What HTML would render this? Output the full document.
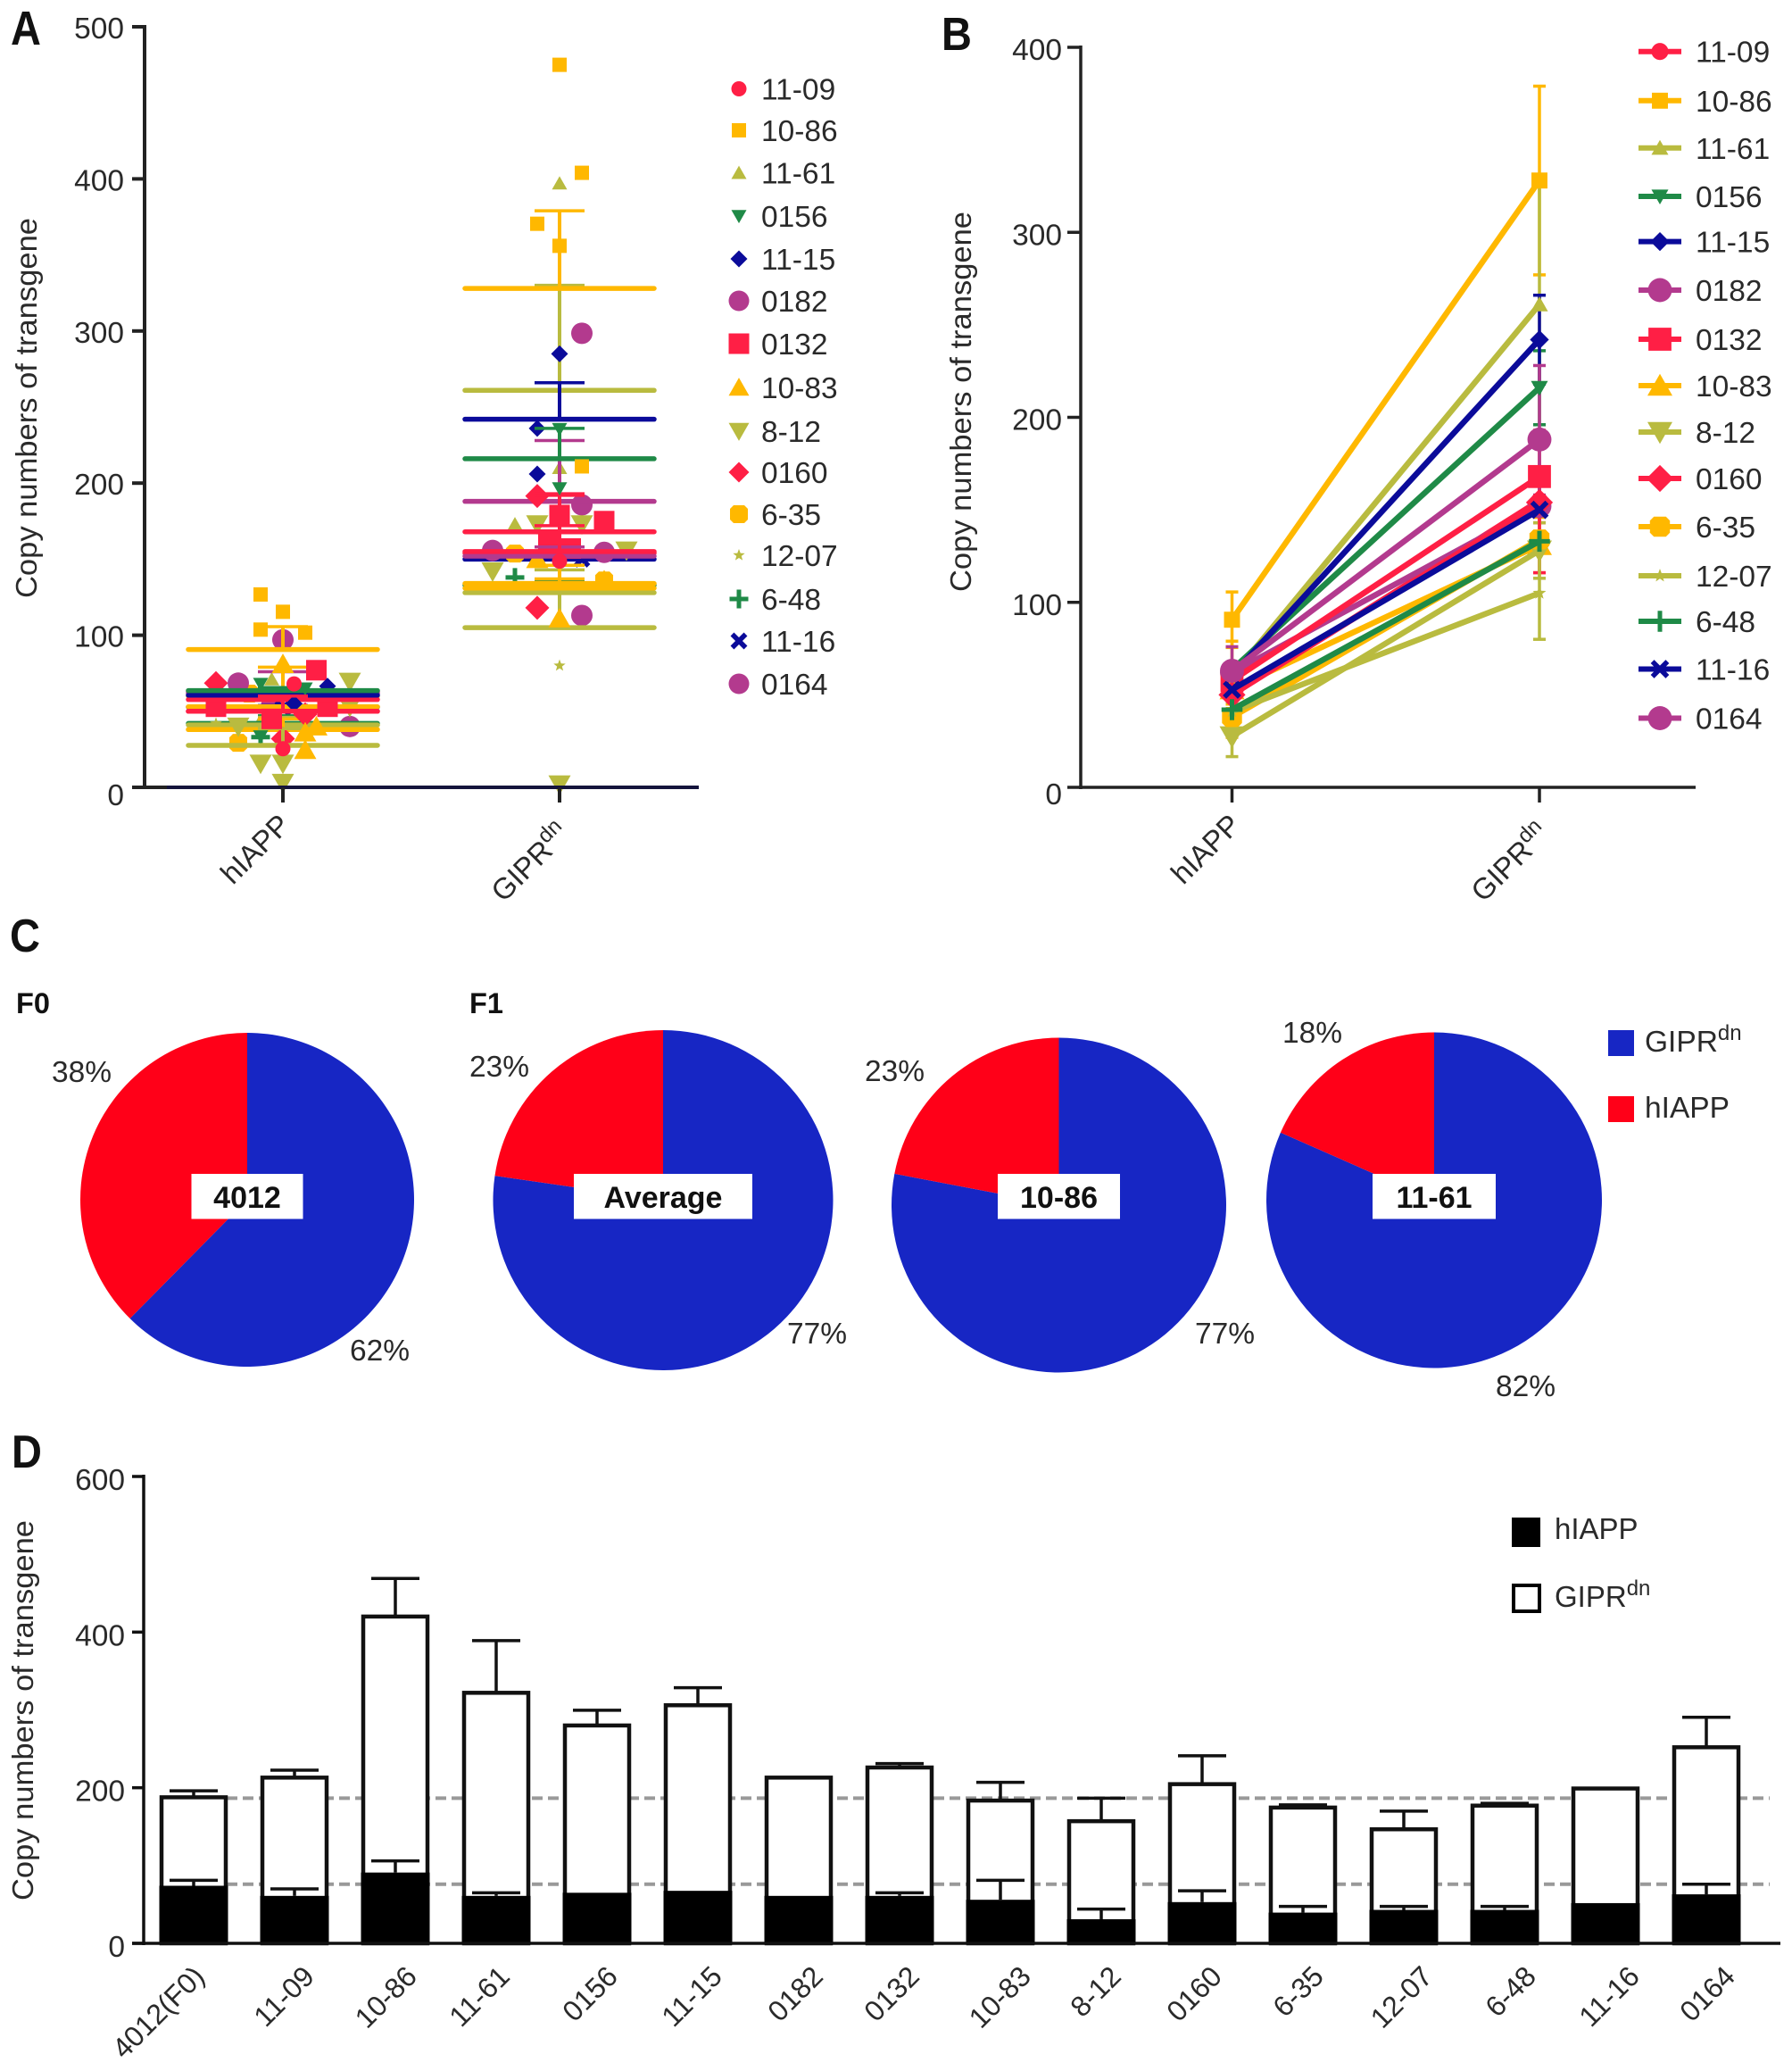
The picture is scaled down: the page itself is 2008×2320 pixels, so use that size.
<!DOCTYPE html>
<html lang="en">
<head>
<meta charset="utf-8">
<title>Transgene copy numbers</title>
<style>
html,body{margin:0;padding:0;background:#fff;}
svg{display:block;}
text{font-family:"Liberation Sans",sans-serif;fill:#2a2a2a;}
</style>
</head>
<body>
<svg id="figure" xmlns="http://www.w3.org/2000/svg" width="2008" height="2320" viewBox="0 0 2008 2320">
  <rect width="2008" height="2320" fill="#ffffff"/>
  <g id="panelA"></g>
  <g id="panelB"></g>
  <g id="panelC"></g>
  <g id="panelD"></g>
  <text transform="translate(12 50) scale(1 1.14)" font-size="47" font-weight="700" style="fill:#111">A</text>
  <text transform="translate(1055 56) scale(1 1.1)" font-size="47" font-weight="700" style="fill:#111">B</text>
  <text transform="translate(11 1066) scale(1 1.1)" font-size="47" font-weight="700" style="fill:#111">C</text>
  <text transform="translate(13 1644) scale(1 1.1)" font-size="47" font-weight="700" style="fill:#111">D</text>
</svg>
<script>
/* ---------- Shared series (panels A and B) ---------- */
const seriesNames = ['11-09','10-86','11-61','0156','11-15','0182','0132','10-83','8-12','0160','6-35','12-07','6-48','11-16','0164'];
const groupNames = ['hIAPP','GIPR'];
const hiappMeans = [50,90.6,60,63.6,60.6,62,57.7,53,27.6,50,38,41,42,52.8,63];
const giprMeans  = [155,328,261,216,242,152,168,131,128,154,134,105,133,150,188];
const hiappSd    = [10,15,3,2,3,1,5,26,11,14,7,5,5,1,13];
const giprSd     = [17,51,69,20,24,6,25,15,15,38,3,25,3,2,40];

/* Individual animals per series, and their ordinal swarm column */
const hiappPoints = [
  [68,25.4],[126.8,115.4,103.7,101.7],[44,71],[68,65,33.5],[66.5,55],[97,68.5],
  [77,53,53,45],[81,36,24.5,40],[69.5,15.6,15.6,3,40,53],[68.5,32,48],[29.3,61.6],
  [42],[33],[52],[40,54]
];
const hiappColumns = [
  [0.5,0],[-1,0,-1,1],[-1,-0.5],[-1,1,-1],[2,0.5],[0,-2],
  [1.5,-3,2,-0.5],[0,1,1,1.5],[3,-1,0,0,-2,3],[-3,0,1],[-2,-1.5],
  [-3],[-1],[0],[3,-0.5]
];
const giprPoints = [
  [148.7],[475,404,370.5,356,211],[397,210,173],[235.5,196.6],[285,236,206],[155.7,154.5],
  [179,175,161.5,157],[150,111,136],[173,173,142,155.7,2],[191.5,118],[153.7,136],
  [80],[138],[150],[298.5,185.7,113]
];
const giprColumns = [
  [0],[0,1,-1,0,1],[0,0,-2],[0,0],[0,-1,-1],[-3,2],
  [0,2,-0.5,0.5],[-1,0,2],[-1,1,-3,3,0],[-1,-1],[-2,2],
  [0],[-2],[1],[1,1,1]
];

/* ---------- Panel C ---------- */
const pieLabels = ['4012','Average','10-86','11-61'];
const pieGiprShare = [62.4,77.3,78,81.6];
const piePrintedGipr = ['62%','77%','77%','82%'];
const piePrintedHiapp = ['38%','23%','23%','18%'];

/* ---------- Panel D ---------- */
const barCategories = ['4012(F0)','11-09','10-86','11-61','0156','11-15','0182','0132','10-83','8-12','0160','6-35','12-07','6-48','11-16','0164'];
const barHiapp    = [74,61,91,61,65,67.5,61,61,56,31,53,39.5,43,43,51.7,63];
const barHiappTop = [81,70,106,65,65,67.5,61,65,81,44,67.5,47.5,47.5,47.5,51.7,76];
const barTotal    = [187.7,213,420,322,280,306,213,226,183.5,157,204.6,174.5,146.6,177,199,252];
const barTotalTop = [196,222.5,469,389,299.5,328.5,213,231,207,186.6,241,178,170,180,199,290.5];
const barRefLines = [186.6,76];

const yTicksA = [0,100,200,300,400,500];
const yTicksB = [0,100,200,300,400];
const yTicksD = [0,200,400,600];

/* ---------- Styling by series (not data) ---------- */
const RED='#ff1f45',YEL='#ffb800',OLV='#b9bb3f',GRN='#1f8a47',NVY='#0b0b9a',PUR='#b33a8e';
const seriesColor = [RED,YEL,OLV,GRN,NVY,PUR,RED,YEL,OLV,RED,YEL,OLV,GRN,NVY,PUR];
const seriesShape = ['circle','square','up','down','diamond','circle','square','up','down','diamond','octagon','star','plus','cross','circle'];
const seriesSize  = [17,16,17,17,19,24,23,25,25,27,20,14,21,15,24];

const SVGNS='http://www.w3.org/2000/svg';
function el(parent,tag,attrs){
  const e=document.createElementNS(SVGNS,tag);
  for(const k in attrs){e.setAttribute(k,attrs[k]);}
  parent.appendChild(e);
  return e;
}
function line(parent,x1,y1,x2,y2,color,w,name){
  const e=el(parent,'line',{x1:x1,y1:y1,x2:x2,y2:y2,stroke:color,'stroke-width':w});
  
  
  return e;
}
function label(parent,x,y,str,size,name,extra){
  const e=el(parent,'text',Object.assign({x:x,y:y,'font-size':size},extra||{}));
  e.textContent=str;
  
  
  return e;
}
function gipr(parent,x,y,size,name,extra){
  const e=el(parent,'text',Object.assign({x:x,y:y,'font-size':size},extra||{}));
  
  
  const a=el(e,'tspan',{});
  a.textContent='GIPR';
  const b=el(e,'tspan',{dy:-Math.round(size*0.38),'font-size':Math.round(size*0.72)});
  b.textContent='dn';
  return e;
}
function marker(parent,shape,x,y,s,color,name){
  const h=s/2;let e;
  if(shape==='circle'){e=el(parent,'ellipse',{cx:x,cy:y,rx:h,ry:h,fill:color});}
  else if(shape==='square'){e=el(parent,'rect',{x:x-h,y:y-h,width:s,height:s,fill:color});}
  else if(shape==='up'){e=el(parent,'polygon',{points:(x-h)+','+(y+h*0.8)+' '+(x+h)+','+(y+h*0.8)+' '+x+','+(y-h*0.95),fill:color});}
  else if(shape==='down'){e=el(parent,'polygon',{points:(x-h)+','+(y-h*0.8)+' '+(x+h)+','+(y-h*0.8)+' '+x+','+(y+h*0.95),fill:color});}
  else if(shape==='diamond'){e=el(parent,'polygon',{points:(x-h)+','+y+' '+x+','+(y-h)+' '+(x+h)+','+y+' '+x+','+(y+h),fill:color});}
  else if(shape==='octagon'){
    const k=h*0.6;
    e=el(parent,'polygon',{points:[[x-k,y-h],[x+k,y-h],[x+h,y-k],[x+h,y+k],[x+k,y+h],[x-k,y+h],[x-h,y+k],[x-h,y-k]].map(function(p){return p.join(',');}).join(' '),fill:color});
  }
  else if(shape==='star'){
    const pts=[];
    for(let i=0;i<10;i++){const r=i%2?h*0.42:h;const a=-Math.PI/2+i*Math.PI/5;pts.push((x+r*Math.cos(a))+','+(y+r*Math.sin(a)));}
    e=el(parent,'polygon',{points:pts.join(' '),fill:color});
  }
  else if(shape==='plus'){e=el(parent,'path',{d:'M'+(x-h)+' '+y+'H'+(x+h)+'M'+x+' '+(y-h)+'V'+(y+h),stroke:color,'stroke-width':5,fill:'none'});}
  else {e=el(parent,'path',{d:'M'+(x-h)+' '+(y-h)+'L'+(x+h)+' '+(y+h)+'M'+(x+h)+' '+(y-h)+'L'+(x-h)+' '+(y+h),stroke:color,'stroke-width':5.5,fill:'none'});}
  
  
  return e;
}
function yAxisTitle(parent,bx,cy,name){
  const e=el(parent,'text',{x:bx,y:cy,'font-size':33,'text-anchor':'middle',textLength:426,lengthAdjust:'spacingAndGlyphs',transform:'rotate(-90 '+bx+' '+cy+')'});
  e.textContent='Copy numbers of transgene';
  
  
}

/* ---------- Panel A ---------- */
(function(){
  const g=document.getElementById('panelA');
  const y=function(v){return 882-v*852/500;};
  const x=[317,627];
  const col=function(c,i){return x[c]+i*25;};
  const AX='#222';
  const rows=[99.5,146,193.7,242,290,337,385,434,483,529,576,622,671,718,766];
  /* first datasets sit on top of later ones; 11-61 lies at the very back */
  const stackOrder=[2,14,13,12,11,10,9,8,7,6,5,4,3,1,0];
  yAxisTitle(g,41,457,'panel-a-y-axis-title');
  stackOrder.forEach(function(s){
    const name=seriesNames[s];
    const c=seriesColor[s];
    [[hiappPoints,hiappColumns],[giprPoints,giprColumns]].forEach(function(set,gi){
      set[0][s].forEach(function(v,k){
        marker(g,seriesShape[s],col(gi,set[1][s][k]),y(v),seriesSize[s],c,'panel-a-point-'+name);
      });
    });
    [[hiappMeans,hiappSd],[giprMeans,giprSd]].forEach(function(set,gi){
      const m=set[0][s],d=set[1][s],cx=x[gi];
      line(g,cx,y(m),cx,y(m+d),c,4,'panel-a-error-bar-'+name);
      line(g,cx-28,y(m+d),cx+28,y(m+d),c,3.5,'panel-a-error-cap-'+name);
      const ml=line(g,cx-106,y(m),cx+106,y(m),c,5.5,'panel-a-mean-line-'+name);
      ml.setAttribute('stroke-linecap','round');
    });
  });
  line(g,162,28,162,884,AX,4,'panel-a-y-axis');
  line(g,160,882,783,882,AX,4,'panel-a-x-axis');
  line(g,187,882,783,882,'#14143c',4,'panel-a-baseline-overlay');
  yTicksA.forEach(function(t){
    line(g,148,y(t),162,y(t),AX,4,'panel-a-y-tick');
    label(g,139,y(t)+(t===0?20:13),String(t),33.5,'panel-a-y-tick-label',{'text-anchor':'end'});
  });
  x.forEach(function(cx){line(g,cx,882,cx,899,AX,4,'panel-a-x-tick');});
  label(g,327,926,groupNames[0],33,'panel-a-x-label-hiapp',{'text-anchor':'end',transform:'rotate(-45 327 926)'});
  gipr(g,640,936,33,'panel-a-x-label-gipr',{'text-anchor':'end',transform:'rotate(-45 640 936)'});
  seriesNames.forEach(function(name,s){
    const ry=rows[s];
    const sz=Math.min(seriesSize[s],23);
    marker(g,seriesShape[s],828,ry,sz,seriesColor[s],'panel-a-legend-marker-'+name);
    label(g,853,ry+12,name,33.5,'panel-a-legend-label-'+name);
  });
})();

/* ---------- Panel B ---------- */
(function(){
  const g=document.getElementById('panelB');
  const y=function(v){return 882-v*829/400;};
  const x=[1380.5,1725];
  const AX='#222';
  const rows=[57.7,112.8,165.8,220,270.6,325,380,432,484,536,590,645,696,749.5,804.5];
  yAxisTitle(g,1088,450,'panel-b-y-axis-title');
  seriesNames.forEach(function(name,s){
    const c=seriesColor[s];
    [[hiappMeans,hiappSd],[giprMeans,giprSd]].forEach(function(set,gi){
      const m=set[0][s],d=set[1][s],cx=x[gi];
      line(g,cx,y(m-d),cx,y(m+d),c,3.5,'panel-b-error-bar-'+name);
      line(g,cx-7,y(m+d),cx+7,y(m+d),c,3.5,'panel-b-error-cap-upper-'+name);
      line(g,cx-7,y(m-d),cx+7,y(m-d),c,3.5,'panel-b-error-cap-lower-'+name);
    });
  });
  seriesNames.forEach(function(name,s){
    const c=seriesColor[s];
    const sz=seriesSize[s]*1.12;
    line(g,x[0],y(hiappMeans[s]),x[1],y(giprMeans[s]),c,6.5,'panel-b-line-'+name);
    marker(g,seriesShape[s],x[0],y(hiappMeans[s]),sz,c,'panel-b-point-hiapp-'+name);
    marker(g,seriesShape[s],x[1],y(giprMeans[s]),sz,c,'panel-b-point-gipr-'+name);
  });
  line(g,1211,51,1211,884,AX,3.5,'panel-b-y-axis');
  line(g,1209,882,1900,882,AX,3.5,'panel-b-x-axis');
  yTicksB.forEach(function(t){
    line(g,1196,y(t),1211,y(t),AX,3.5,'panel-b-y-tick');
    label(g,1190,y(t)+(t===0?19:14),String(t),33.5,'panel-b-y-tick-label',{'text-anchor':'end'});
  });
  x.forEach(function(cx){line(g,cx,882,cx,899,AX,3.5,'panel-b-x-tick');});
  label(g,1392,926,groupNames[0],33,'panel-b-x-label-hiapp',{'text-anchor':'end',transform:'rotate(-45 1392 926)'});
  gipr(g,1738,936,33,'panel-b-x-label-gipr',{'text-anchor':'end',transform:'rotate(-45 1738 936)'});
  seriesNames.forEach(function(name,s){
    const ry=rows[s];
    line(g,1836,ry,1884,ry,seriesColor[s],6,'panel-b-legend-line-'+name);
    marker(g,seriesShape[s],1860,ry,seriesSize[s]*1.12,seriesColor[s],'panel-b-legend-marker-'+name);
    label(g,1900,ry+12,name,33.5,'panel-b-legend-label-'+name);
  });
})();

/* ---------- Panel C ---------- */
(function(){
  const g=document.getElementById('panelC');
  const BLUE='#1726c4',PRED='#ff0018';
  const cx=[277,743,1186.5,1607];
  const cy=[1344,1344.5,1350,1344.5];
  const r=[187,190.5,187.5,188];
  const boxW=[125,200,137,138];
  const gX=[392,882,1339,1676];
  const gY=[1524,1505,1505,1564];
  const hX=[58,526,969,1437];
  const hY=[1212,1206,1211,1168];
  label(g,18,1135,'F0',32.5,'panel-c-f0-heading',{'font-weight':'700',style:'fill:#111'});
  label(g,526,1135,'F1',32.5,'panel-c-f1-heading',{'font-weight':'700',style:'fill:#111'});
  pieLabels.forEach(function(name,i){
    const a=pieGiprShare[i]/100*2*Math.PI;
    const ex=cx[i]+r[i]*Math.sin(a),ey=cy[i]-r[i]*Math.cos(a);
    const top=cy[i]-r[i];
    const large=pieGiprShare[i]>50?1:0;
    const blue=el(g,'path',{d:'M'+cx[i]+' '+cy[i]+'L'+cx[i]+' '+top+'A'+r[i]+' '+r[i]+' 0 '+large+' 1 '+ex+' '+ey+'Z',fill:BLUE});
    
    
    const red=el(g,'path',{d:'M'+cx[i]+' '+cy[i]+'L'+ex+' '+ey+'A'+r[i]+' '+r[i]+' 0 '+(1-large)+' 1 '+cx[i]+' '+top+'Z',fill:PRED});
    
    
    const box=el(g,'rect',{x:cx[i]-boxW[i]/2,y:1315,width:boxW[i],height:50.5,fill:'#fff'});
    
    
    label(g,cx[i],1353,name,34,'pie-label-'+name,{'text-anchor':'middle','font-weight':'700',style:'fill:#111'});
    label(g,gX[i],gY[i],piePrintedGipr[i],33.5,'pie-percent-gipr-'+name);
    label(g,hX[i],hY[i],piePrintedHiapp[i],33.5,'pie-percent-hiapp-'+name);
  });
  const s1=el(g,'rect',{x:1802,y:1154,width:29,height:29,fill:BLUE});
  
  
  const s2=el(g,'rect',{x:1802,y:1228,width:29,height:29,fill:PRED});
  
  
  gipr(g,1843,1178,33.5,'panel-c-legend-label-gipr');
  label(g,1843,1252,groupNames[0],33.5,'panel-c-legend-label-hiapp');
})();

/* ---------- Panel D ---------- */
(function(){
  const g=document.getElementById('panelD');
  const y=function(v){return 2177-v*523/600;};
  const x=function(i){return 217+113*i;};
  const AX='#111';
  const labelEnds=[231,354,469,573,694,811,924,1032,1157,1258,1371,1485,1607,1723,1839,1946];
  yAxisTitle(g,37,1916,'panel-d-y-axis-title');
  barRefLines.forEach(function(v){
    const d=line(g,254,y(v),1983,y(v),'#999',4,'panel-d-reference-line');
    d.setAttribute('stroke-dasharray','12 6');
  });
  barCategories.forEach(function(name,i){
    const cx=x(i);
    if(barTotalTop[i]>barTotal[i]){
      line(g,cx,y(barTotal[i]),cx,y(barTotalTop[i]),AX,3.5,'panel-d-error-gipr-'+name);
      line(g,cx-27,y(barTotalTop[i]),cx+27,y(barTotalTop[i]),AX,3.5,'panel-d-error-cap-gipr-'+name);
    }
    const w=el(g,'rect',{x:cx-36,y:y(barTotal[i]),width:72,height:y(0)-y(barTotal[i]),fill:'#fff',stroke:AX,'stroke-width':4.5});
    
    
    const b=el(g,'rect',{x:cx-38.5,y:y(barHiapp[i]),width:77,height:y(0)-y(barHiapp[i])+1,fill:'#000'});
    
    
    if(barHiappTop[i]>barHiapp[i]){
      line(g,cx,y(barHiapp[i]),cx,y(barHiappTop[i]),AX,3.5,'panel-d-error-hiapp-'+name);
      line(g,cx-27,y(barHiappTop[i]),cx+27,y(barHiappTop[i]),AX,3.5,'panel-d-error-cap-hiapp-'+name);
    }
    const lx=labelEnds[i],ly=2216;
    label(g,lx,ly,name,32,'panel-d-x-label-'+name,{'text-anchor':'end',transform:'rotate(-45 '+lx+' '+ly+')'});
  });
  line(g,161,1652,161,2179,AX,3.5,'panel-d-y-axis');
  line(g,148,2177,1995,2177,AX,3.5,'panel-d-x-axis');
  yTicksD.forEach(function(t){
    line(g,148,y(t),161,y(t),AX,3.5,'panel-d-y-tick');
    label(g,140,y(t)+15,String(t),33.5,'panel-d-y-tick-label',{'text-anchor':'end'});
  });
  const s1=el(g,'rect',{x:1694,y:1700,width:32,height:33,fill:'#000'});
  
  
  const s2=el(g,'rect',{x:1696,y:1776,width:29,height:29,fill:'#fff',stroke:'#000','stroke-width':4});
  
  
  label(g,1742,1724,groupNames[0],33,'panel-d-legend-label-hiapp');
  gipr(g,1742,1800,33,'panel-d-legend-label-gipr');
})();
</script>
</body>
</html>
